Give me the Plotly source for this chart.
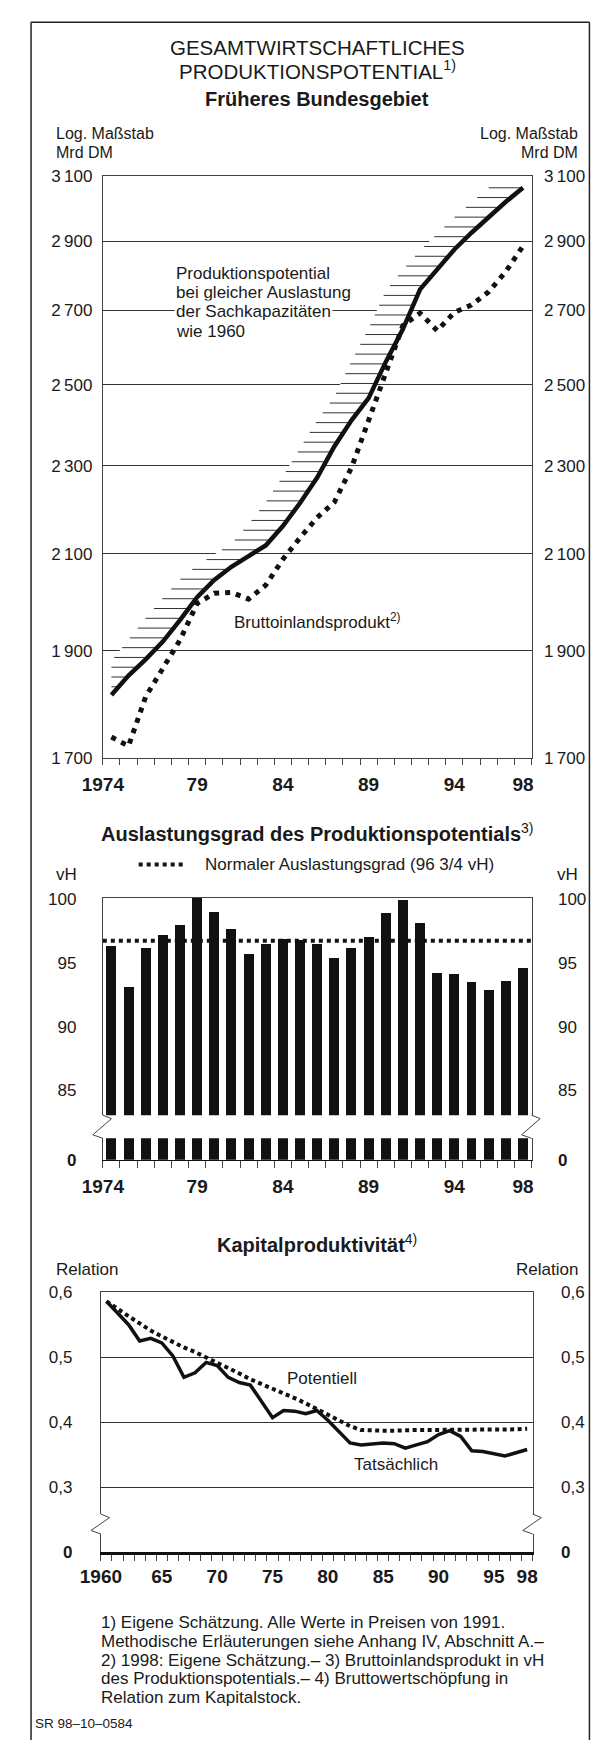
import numpy as np
import plotly.graph_objects as go

W, H = 604, 1750
FONT = "Liberation Sans, Arial, Helvetica, sans-serif"
INK = "#1a1a1a"
LC = "#444444"

# ---------------- Data: Produktionspotential (Mrd DM, log scale) ----------------
years_a = list(range(1974, 1999))
potential = [1815, 1852, 1883, 1918, 1961, 2008, 2044, 2072, 2095, 2118, 2161, 2213, 2272,
             2346, 2410, 2466, 2560, 2648, 2759, 2818, 2875, 2925, 2974, 3020, 3064]
bip = [1738, 1722, 1812, 1865, 1921, 1995, 2016, 2018, 2004, 2033, 2088, 2135, 2180,
       2215, 2295, 2410, 2534, 2658, 2692, 2644, 2694, 2715, 2752, 2810, 2885]
years_upper = list(range(1974, 1997))
potential_1960 = [1880, 1922, 1965, 2006, 2045, 2075, 2098, 2122, 2165, 2215, 2275, 2342,
                  2410, 2470, 2562, 2650, 2755, 2815, 2872, 2922, 2972, 3018, 3064]
ticks_a = [1700, 1900, 2100, 2300, 2500, 2700, 2900, 3100]
ticktext_a = ["1\u2009700", "1\u2009900", "2\u2009100", "2\u2009300", "2\u2009500",
              "2\u2009700", "2\u2009900", "3\u2009100"]
xlabels_a = [1974, 1979, 1984, 1989, 1994, 1998]
xlabeltext_a = ["1974", "79", "84", "89", "94", "98"]

# ---------------- Data: Auslastungsgrad (vH) ----------------
util = [96.3, 93.1, 96.2, 97.2, 98.0, 100.1, 99.0, 97.7, 95.7, 96.5, 96.9, 96.8, 96.5,
        95.4, 96.2, 97.0, 98.9, 99.9, 98.1, 94.2, 94.1, 93.5, 92.9, 93.6, 94.6]
normal_level = 96.75
ticks_b = [85, 90, 95, 100]

# ---------------- Data: Kapitalproduktivität (Relation) ----------------
years_c = list(range(1960, 1999))
actual = [0.586, 0.568, 0.550, 0.525, 0.529, 0.522, 0.502, 0.469, 0.476, 0.492, 0.487,
          0.469, 0.461, 0.457, 0.433, 0.407, 0.418, 0.417, 0.413, 0.418, 0.403, 0.385,
          0.368, 0.365, 0.367, 0.368, 0.367, 0.360, 0.365, 0.370, 0.381, 0.387, 0.378,
          0.356, 0.355, 0.352, 0.348, 0.353, 0.358]
potentiell = [0.586, 0.574, 0.563, 0.552, 0.541, 0.532, 0.523, 0.515, 0.508, 0.500, 0.492,
              0.484, 0.475, 0.466, 0.459, 0.452, 0.444, 0.437, 0.429, 0.420, 0.412, 0.403,
              0.394, 0.388, 0.387, 0.387, 0.387, 0.388, 0.388, 0.388, 0.388, 0.388, 0.388,
              0.388, 0.389, 0.389, 0.389, 0.389, 0.390]
ticks_c = [0.3, 0.4, 0.5, 0.6]
ticktext_c = ["0,3", "0,4", "0,5", "0,6"]
xlabels_c = [1960, 1965, 1970, 1975, 1980, 1985, 1990, 1995, 1998]
xlabeltext_c = ["1960", "65", "70", "75", "80", "85", "90", "95", "98"]


def px(x):
    return x / W


def py(y):
    return 1 - y / H


fig = go.Figure()


def ghost(x, y, xa, ya):
    # transparent carrier so that the secondary axes are drawn
    fig.add_trace(go.Scatter(x=x, y=y, mode="lines", line=dict(width=0, color="rgba(0,0,0,0)"),
                             opacity=0, hoverinfo="skip", xaxis=xa, yaxis=ya))


# ---------------- Chart 1 ----------------
xr_a = [years_a[0] - 0.5, years_a[-1] + 0.5]
bounds_a = [y - 0.5 for y in years_a] + [years_a[-1] + 0.5]

fig.add_trace(go.Scatter(x=years_a + years_upper[::-1], y=potential + potential_1960[::-1],
                         fill="toself", fillcolor="white", mode="lines", line=dict(width=0),
                         hoverinfo="skip", xaxis="x", yaxis="y"))
lp = np.log(potential)
lu = np.log(potential_1960)
step = 0.0101
hx, hy = [], []
k = 0
while True:
    lv = lp[-1] - k * step
    if lv <= lp[0] + 0.008:
        break
    xr = float(np.interp(lv, lp, years_a))
    xl = float(np.interp(lv, lu, years_upper))
    hx += [xl, xr, None]
    hy += [float(np.exp(lv)), float(np.exp(lv)), None]
    k += 1
fig.add_trace(go.Scatter(x=hx, y=hy, mode="lines", line=dict(color="#333333", width=1),
                         hoverinfo="skip", xaxis="x", yaxis="y"))
fig.add_trace(go.Scatter(x=years_a, y=potential, mode="lines",
                         line=dict(color="#111111", width=4.5), xaxis="x", yaxis="y"))
fig.add_trace(go.Scatter(x=years_a, y=bip, mode="lines",
                         line=dict(color="#111111", width=5, dash="5px,6px"), xaxis="x", yaxis="y"))
ghost(years_a, potential, "x", "y2")

# ---------------- Chart 2 ----------------
for xa, ya in (("x3", "y3"), ("x4", "y4")):
    fig.add_trace(go.Bar(x=years_a, y=util, width=0.58, marker=dict(color="#111111", line=dict(width=0)),
                         xaxis=xa, yaxis=ya))
fig.add_trace(go.Scatter(x=xr_a, y=[normal_level, normal_level], mode="lines",
                         line=dict(color="#111111", width=4, dash="4px,4px"), xaxis="x3", yaxis="y3"))
ghost(years_a, util, "x3", "y5")
ghost(years_a, util, "x4", "y6")

# ---------------- Chart 3 ----------------
xr_c = [years_c[0] - 0.5, years_c[-1] + 0.5]
bounds_c = [y - 0.5 for y in years_c] + [years_c[-1] + 0.5]
fig.add_trace(go.Scatter(x=years_c, y=potentiell, mode="lines",
                         line=dict(color="#111111", width=4, dash="4px,3.5px"), xaxis="x7", yaxis="y7"))
fig.add_trace(go.Scatter(x=years_c, y=actual, mode="lines",
                         line=dict(color="#111111", width=3.5), xaxis="x7", yaxis="y7"))
ghost(years_c, actual, "x7", "y9")
ghost(years_c, actual, "x8", "y8")
ghost(years_c, actual, "x8", "y10")

# ---------------- Axes ----------------
base = dict(showgrid=False, zeroline=False, linecolor=LC, linewidth=1, ticks="",
            tickfont=dict(size=17, color=INK, family=FONT), fixedrange=True)

A1x = [85.5, 533.5]
A1y = [169.3, 757.7]
A2top = [898.3, 1118.3]
A2bot = [1141.7, 1163.3]
A3x = [83.5, 534.7]
A3top = [1297.3, 1521.7]
A3bot = [1541.7, 1560.0]


def dom_y(a):
    return [py(a[1]), py(a[0])]


def dom_x(a):
    return [px(a[0]), px(a[1])]


lay = {}
lay["xaxis"] = dict(base, domain=dom_x(A1x), anchor="y", range=xr_a, showline=True, mirror=True,
                    tickmode="array", tickvals=[xr_a[0]] + xlabels_a[1:],
                    ticktext=["<b>%s</b>" % t for t in xlabeltext_a],
                    tickfont=dict(size=19, color=INK, family=FONT), ticklabelstandoff=9,
                    minor=dict(tickmode="array", tickvals=bounds_a, ticks="outside", ticklen=6,
                               tickcolor=LC, tickwidth=1, showgrid=False))
ylog = dict(type="log", range=[np.log10(ticks_a[0]), np.log10(ticks_a[-1])], tickmode="array",
            tickvals=ticks_a, ticktext=ticktext_a)
lay["yaxis"] = dict(base, **ylog, domain=dom_y(A1y), anchor="x", showline=True, mirror=True,
                    showgrid=True, gridcolor="#333333", gridwidth=1, ticklabelstandoff=6)
lay["yaxis2"] = dict(base, **ylog, overlaying="y", side="right", anchor="x", ticklabelstandoff=8)

rb = [83.06, 100.13]
lay["xaxis3"] = dict(base, domain=dom_x(A1x), anchor="y3", range=xr_a, showline=True, side="top",
                     showticklabels=False)
lay["yaxis3"] = dict(base, domain=dom_y(A2top), anchor="x3", range=rb, showline=True, mirror=True,
                     tickmode="array", tickvals=ticks_b, ticklabelstandoff=22)
lay["yaxis5"] = dict(base, overlaying="y3", side="right", anchor="x3", range=rb, tickmode="array",
                     tickvals=ticks_b, ticklabelstandoff=22)
lay["xaxis4"] = dict(base, domain=dom_x(A1x), anchor="y4", range=xr_a, showline=True,
                     linecolor="#111111", linewidth=1.7,
                     tickmode="array", tickvals=[xr_a[0]] + xlabels_a[1:],
                     ticktext=["<b>%s</b>" % t for t in xlabeltext_a],
                     tickfont=dict(size=19, color=INK, family=FONT), ticklabelstandoff=9,
                     minor=dict(tickmode="array", tickvals=bounds_a, ticks="outside", ticklen=7,
                                tickcolor=LC, tickwidth=1, showgrid=False))
lay["yaxis4"] = dict(base, domain=dom_y(A2bot), anchor="x4", range=[0, 1], showline=True, mirror=True,
                     tickmode="array", tickvals=[0], ticktext=["<b>0</b>"], ticklabelstandoff=22)
lay["yaxis6"] = dict(base, overlaying="y4", side="right", anchor="x4", range=[0, 1], tickmode="array",
                     tickvals=[0], ticktext=["<b>0</b>"], ticklabelstandoff=22)

rc = [0.6 - (A3top[1] - A3top[0]) / 657.0, 0.6]
lay["xaxis7"] = dict(base, domain=dom_x(A3x), anchor="y7", range=xr_c, showline=True, side="top",
                     showticklabels=False)
lay["yaxis7"] = dict(base, domain=dom_y(A3top), anchor="x7", range=rc, showline=True, mirror=True,
                     showgrid=True, gridcolor="#333333", gridwidth=1,
                     tickmode="array", tickvals=ticks_c, ticktext=ticktext_c, ticklabelstandoff=24)
lay["yaxis9"] = dict(base, overlaying="y7", side="right", anchor="x7", range=rc, tickmode="array",
                     tickvals=ticks_c, ticktext=ticktext_c, ticklabelstandoff=24)
lay["xaxis8"] = dict(base, domain=dom_x(A3x), anchor="y8", range=xr_c, showline=True,
                     linecolor="#111111", linewidth=2.5,
                     tickmode="array", tickvals=[xr_c[0]] + xlabels_c[1:],
                     ticktext=["<b>%s</b>" % t for t in xlabeltext_c],
                     tickfont=dict(size=19, color=INK, family=FONT), ticklabelstandoff=6,
                     minor=dict(tickmode="array", tickvals=bounds_c, ticks="outside", ticklen=6.5,
                                tickcolor=LC, tickwidth=1, showgrid=False))
lay["yaxis8"] = dict(base, domain=dom_y(A3bot), anchor="x8", range=[0, 1], showline=True, mirror=True,
                     tickmode="array", tickvals=[0], ticktext=["<b>0</b>"], ticklabelstandoff=24)
lay["yaxis10"] = dict(base, overlaying="y8", side="right", anchor="x8", range=[0, 1], tickmode="array",
                      tickvals=[0], ticktext=["<b>0</b>"], ticklabelstandoff=24)

# ---------------- Shapes: frame, axis breaks, legend sample ----------------
shapes = []
fr = dict(type="line", xref="paper", yref="paper", line=dict(color="#222222", width=1.5))
shapes.append(dict(fr, x0=px(10.5), x1=px(10.5), y0=py(13.3), y1=py(1750)))
shapes.append(dict(fr, x0=px(10.5), x1=px(594), y0=py(13.3), y1=py(13.3)))
shapes.append(dict(fr, x0=px(594), x1=px(594), y0=py(13.3), y1=py(1750)))


def zigzag(xa, y0, y1):
    pts = [(xa, y0), (xa + 9, y0 + 3.5), (xa - 10.4, y1 - 3.5), (xa, y1)]
    path = "M " + " L ".join("%.5f,%.5f" % (px(a), py(b)) for a, b in pts)
    return dict(type="path", xref="paper", yref="paper", path=path, line=dict(color=LC, width=1))


for xa in A1x:
    shapes.append(zigzag(xa, A2top[1], A2bot[0]))
for xa in A3x:
    shapes.append(zigzag(xa, A3top[1], A3bot[0]))
shapes.append(dict(type="line", xref="paper", yref="paper", x0=px(123), x1=px(171.5), y0=py(865), y1=py(865),
                   line=dict(color="#111111", width=4, dash="4px,4px")))

# ---------------- Texts ----------------
anns = []


def ann(text, x, y, size=17, xanchor="left", bg=None):
    d = dict(text=text, x=px(x), y=py(y), xref="paper", yref="paper", showarrow=False,
             xanchor=xanchor, yanchor="middle", font=dict(size=size, color=INK, family=FONT))
    if bg:
        d["bgcolor"] = bg
        d["borderpad"] = 1
    anns.append(d)


ann("GESAMTWIRTSCHAFTLICHES", 309.5, 38.5, 20.5, "center")
ann("PRODUKTIONSPOTENTIAL<sup>1)</sup>", 309.5, 62, 20.5, "center")
ann("<b>Früheres Bundesgebiet</b>", 309.5, 90.5, 20, "center")
ann("Log. Maßstab", 34.7, 125.5, 16)
ann("Mrd DM", 34.7, 145, 16)
ann("Log. Maßstab", 584, 125.5, 16, xanchor="right")
ann("Mrd DM", 584, 145, 16, xanchor="right")
for t, yy in (("Produktionspotential", 267.3), ("bei gleicher Auslastung", 286.7),
              ("der Sachkapazitäten", 306), ("wie 1960", 326)):
    ann(t, 160, yy, bg="white")
ann("Bruttoinlandsprodukt<sup>2)</sup>", 220, 618.3)

ann("<b>Auslastungsgrad des Produktionspotentials</b><sup>3)</sup>", 309.5, 833, 20, "center")
ann("Normaler Auslastungsgrad (96 3/4 vH)", 190.5, 865)
ann("vH", 34.7, 875)
ann("vH", 584, 875, xanchor="right")

ann("<b>Kapitalproduktivität</b><sup>4)</sup>", 309.5, 1248, 20, "center")
ann("Relation", 34.7, 1274)
ann("Relation", 584, 1274, xanchor="right")
ann("Potentiell", 276, 1385)
ann("Tatsächlich", 346, 1471.7)

foot = ["1) Eigene Schätzung. Alle Werte in Preisen von 1991.",
        "Methodische Erläuterungen siehe Anhang IV, Abschnitt A.–",
        "2) 1998: Eigene Schätzung.– 3) Bruttoinlandsprodukt in vH",
        "des Produktionspotentials.– 4) Bruttowertschöpfung in",
        "Relation zum Kapitalstock."]
for i, t in enumerate(foot):
    ann(t, 82, 1631.7 + i * 18.8, 17)
ann("SR 98–10–0584", 13, 1733, 13.5)

fig.update_layout(width=W, height=H, margin=dict(l=0, r=0, t=0, b=0), paper_bgcolor="white",
                  plot_bgcolor="white", showlegend=False, bargap=0, hovermode=False,
                  font=dict(family=FONT, size=17, color=INK),
                  shapes=shapes, annotations=anns, **lay)

fig.write_html("out.html", config={"displayModeBar": False, "staticPlot": True},
               post_script="document.body.style.margin='0';document.body.style.overflow='hidden';")
